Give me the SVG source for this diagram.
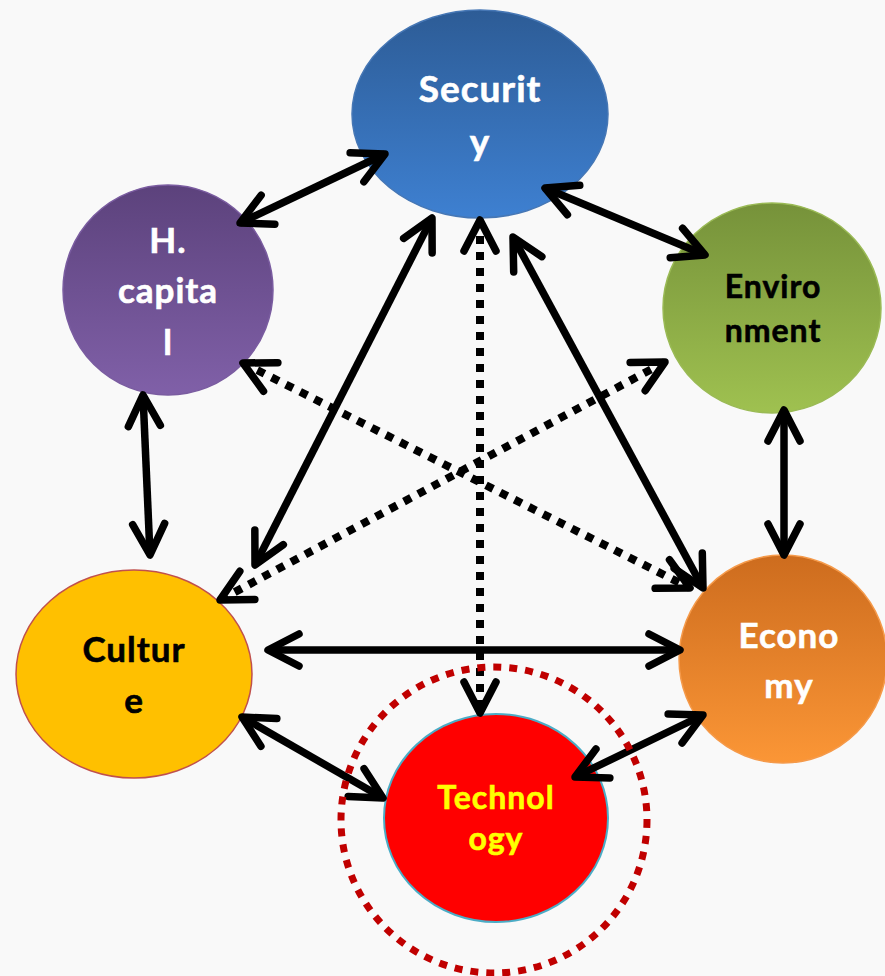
<svg xmlns="http://www.w3.org/2000/svg" width="885" height="976" viewBox="0 0 885 976">
<defs>
<linearGradient id="gSec" x1="0" y1="0" x2="0" y2="1"><stop offset="0" stop-color="#2d5c96"/><stop offset="1" stop-color="#3e80d1"/></linearGradient>
<linearGradient id="gHc" x1="0" y1="0" x2="0" y2="1"><stop offset="0" stop-color="#5c427c"/><stop offset="1" stop-color="#8060a8"/></linearGradient>
<linearGradient id="gEnv" x1="0" y1="0" x2="0" y2="1"><stop offset="0" stop-color="#76923a"/><stop offset="1" stop-color="#9fc150"/></linearGradient>
<linearGradient id="gEco" x1="0" y1="0" x2="0" y2="1"><stop offset="0" stop-color="#cd6c1e"/><stop offset="1" stop-color="#fb9636"/></linearGradient>
<marker id="ah" markerUnits="userSpaceOnUse" markerWidth="80" markerHeight="80" refX="0" refY="0" viewBox="-40 -40 80 80" orient="auto-start-reverse" overflow="visible">
<path d="M-31,-16 L0,0 L-31,16" fill="none" stroke="#000" stroke-width="7.5" stroke-linecap="round" stroke-linejoin="round"/>
</marker>
<style>
.lbl{font-family:Lato,"Open Sans","Liberation Sans",sans-serif;font-weight:bold;text-anchor:middle;letter-spacing:1px;stroke-width:0.6px}
.w{fill:#fff;stroke:#fff}
.k{fill:#000;stroke:#000}
.yl{fill:#ffff00;stroke:#ffff00}
.solid{fill:none;stroke:#000;stroke-width:7.5;marker-start:url(#ah);marker-end:url(#ah)}
.dot{fill:none;stroke:#000;stroke-width:8;stroke-dasharray:8 8;marker-start:url(#ah);marker-end:url(#ah)}
</style>
</defs>
<rect width="885" height="976" fill="#f9f9f9"/>
<g id="security">
<ellipse cx="480" cy="114" rx="128" ry="104" fill="url(#gSec)" stroke="#4677b5" stroke-width="1.5"/>
<text class="lbl w" x="480" y="102" font-size="37">Securit</text>
<text class="lbl w" x="480" y="155" font-size="37">y</text>
</g>
<g id="hcapital">
<circle cx="168" cy="290" r="105" fill="url(#gHc)" stroke="#7a5ca0" stroke-width="1.5"/>
<text class="lbl w" x="168" y="253" font-size="35">H.</text>
<text class="lbl w" x="168" y="303" font-size="35">capita</text>
<text class="lbl w" x="168" y="355" font-size="35">l</text>
</g>
<g id="environment">
<ellipse cx="772" cy="308" rx="109" ry="105" fill="url(#gEnv)" stroke="#9aba55" stroke-width="1.5"/>
<text class="lbl k" x="773" y="298" font-size="32">Enviro</text>
<text class="lbl k" x="773" y="342" font-size="32">nment</text>
</g>
<g id="culture">
<ellipse cx="134" cy="674" rx="118" ry="104" fill="#ffc000" stroke="#c0504d" stroke-width="1.5"/>
<text class="lbl k" x="134" y="662" font-size="35">Cultur</text>
<text class="lbl k" x="134" y="713" font-size="35">e</text>
</g>
<g id="economy">
<ellipse cx="783" cy="659" rx="104" ry="104" fill="url(#gEco)" stroke="#f59a4a" stroke-width="1.5"/>
<text class="lbl w" x="789" y="648" font-size="35">Econo</text>
<text class="lbl w" x="789" y="698" font-size="35">my</text>
</g>
<g id="technology">
<ellipse cx="496" cy="818" rx="112" ry="104" fill="#ff0000" stroke="#4bacc6" stroke-width="2"/>
<text class="lbl yl" x="496" y="809" font-size="32">Technol</text>
<text class="lbl yl" x="496" y="850" font-size="32">ogy</text>
</g>
<g id="connectors">
<line class="solid" x1="385" y1="154" x2="240" y2="223"/>
<line class="solid" x1="545" y1="188" x2="705" y2="255"/>
<line class="solid" x1="143" y1="395" x2="150" y2="555"/>
<line class="solid" x1="784" y1="410" x2="784" y2="555"/>
<line class="solid" x1="432" y1="218" x2="255" y2="565"/>
<line class="solid" x1="513" y1="237" x2="703" y2="588"/>
<line class="dot" x1="480" y1="220" x2="480" y2="713"/>
<line class="dot" x1="243" y1="363" x2="690" y2="588"/>
<line class="dot" x1="665" y1="362" x2="220" y2="600"/>
<line class="solid" x1="268" y1="650" x2="680" y2="650"/>
<line class="solid" x1="242" y1="717" x2="383" y2="798"/>
<line class="solid" x1="703" y1="715" x2="575" y2="777"/>
</g>
<g id="highlight">
<circle cx="494" cy="820" r="153" fill="none" stroke="#c00000" stroke-width="7" stroke-dasharray="8 8"/>
</g>
</svg>
